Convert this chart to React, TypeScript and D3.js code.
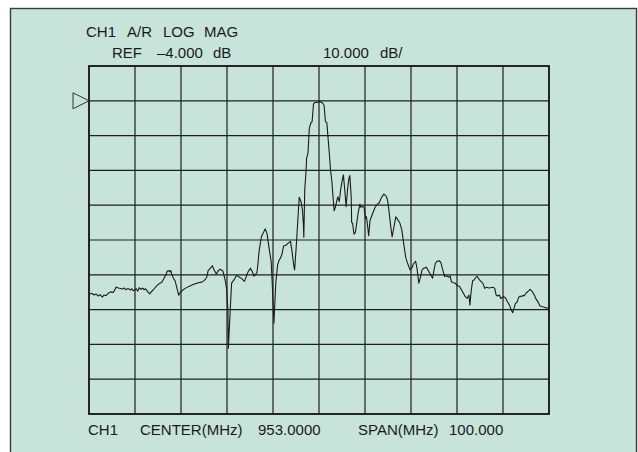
import React, { useEffect, useRef } from 'react'
import * as d3 from 'd3'

// trace: frequency (MHz) / magnitude (dB)
const freqMHz = [
  903.2, 903.6, 904.1, 904.5, 905.0, 905.4, 905.9, 906.3, 906.7, 907.2, 907.7, 908.2, 908.5, 908.9, 909.4,
  910.3, 910.7, 911.0, 911.5, 912.0, 912.3, 912.6, 913.0, 913.3, 913.6, 913.9, 914.3, 914.6, 915.0, 915.3,
  915.8, 916.2, 916.5, 917.0, 917.7, 918.4, 918.8, 919.2, 919.8, 920.0, 920.4, 920.6, 920.8, 921.0, 921.4,
  921.7, 922.1, 922.5, 922.8, 923.2, 923.9, 924.6, 925.3, 926.0, 926.8, 927.5, 928.1, 928.6, 928.9, 929.4,
  929.8, 930.2, 930.7, 931.1, 931.5, 932.1, 932.6, 932.9, 933.2, 933.3, 933.7, 934.0, 934.6, 935.1, 935.7,
  936.2, 936.8, 937.3, 937.6, 938.1, 938.6, 938.9, 939.5, 939.7, 940.0, 940.5, 941.3, 941.7, 942.1, 942.6,
  942.8, 943.2, 943.6, 944.0, 944.3, 944.7, 945.0, 945.3, 945.8, 946.3, 946.8, 947.1, 947.5, 947.7, 948.0,
  948.4, 948.7, 949.1, 949.4, 949.6, 949.7, 949.9, 950.2, 950.3, 950.6, 950.9, 951.2, 951.5, 951.8, 952.1,
  952.5, 952.9, 953.4, 953.8, 954.1, 954.4, 954.7, 955.0, 955.3, 955.5, 955.8, 956.1, 956.3, 956.6, 956.9,
  957.1, 957.4, 957.7, 958.0, 958.3, 958.6, 958.9, 959.2, 959.5, 959.7, 960.0, 960.1, 960.3, 960.6, 960.9,
  961.2, 961.5, 961.9, 962.1, 962.5, 962.8, 963.1, 963.3, 963.5, 963.8, 964.1, 964.4, 964.8, 965.2, 965.7,
  966.1, 966.5, 966.8, 967.1, 967.6, 967.9, 968.2, 968.6, 968.9, 969.3, 969.7, 970.2, 970.6, 971.0, 971.5,
  971.9, 972.4, 972.8, 973.3, 973.5, 974.0, 974.3, 974.7, 975.1, 975.4, 975.8, 976.3, 976.7, 977.1, 977.7,
  978.0, 978.3, 978.7, 979.2, 979.5, 979.9, 980.3, 980.8, 981.2, 981.5, 981.8, 982.2, 982.6, 983.1, 983.5,
  984.0, 984.4, 984.8, 985.2, 985.6, 985.8, 986.1, 986.4, 986.7, 987.1, 987.4, 987.8, 988.3, 988.7, 989.0,
  989.4, 989.9, 990.9, 991.2, 991.5, 991.8, 992.2, 992.5, 993.1, 993.5, 993.9, 994.4, 994.8, 995.1, 995.4,
  995.7, 996.1, 996.4, 996.7, 997.0, 997.3, 997.6, 998.0, 998.5, 998.9, 999.4, 999.8, 1000.2, 1000.7, 1001.0,
  1001.4, 1002.0, 1002.5, 1003.0
]
const magDB = [
  -59.5, -59.3, -59.8, -59.5, -60.1, -59.7, -60.4, -59.8, -60.0, -59.3, -58.9, -59.1, -58.6, -57.5, -57.8,
  -58.1, -57.8, -58.3, -57.9, -58.4, -58.0, -58.6, -58.3, -58.0, -58.7, -57.7, -58.2, -57.8, -58.3, -58.0,
  -58.9, -59.5, -58.9, -58.3, -57.2, -56.4, -56.2, -55.3, -53.8, -52.9, -52.8, -53.2, -52.8, -53.9, -55.1,
  -55.7, -57.7, -59.9, -59.1, -58.6, -57.9, -57.4, -57.0, -56.6, -56.3, -56.1, -55.6, -54.7, -52.8, -52.1,
  -51.4, -52.6, -53.8, -52.8, -52.4, -52.9, -55.5, -57.9, -64.1, -75.1, -64.1, -56.4, -55.3, -54.1, -54.7,
  -55.1, -55.9, -54.1, -53.1, -52.1, -53.4, -54.4, -53.4, -51.2, -46.9, -43.0, -40.8, -42.1, -45.9, -50.2,
  -55.5, -67.9, -56.4, -51.2, -49.9, -49.0, -47.8, -45.7, -45.5, -44.9, -44.4, -46.9, -51.2, -52.6, -46.9,
  -38.3, -31.7, -33.0, -35.4, -39.2, -43.2, -29.6, -23.9, -20.5, -19.1, -11.9, -10.5, -10.0, -4.9, -4.5,
  -4.5, -4.3, -4.3, -4.7, -5.2, -10.0, -10.2, -15.2, -20.1, -23.9, -27.2, -32.5, -35.6, -34.4, -32.5,
  -31.6, -33.0, -29.6, -27.2, -25.3, -29.6, -34.4, -29.6, -26.3, -25.5, -31.6, -39.0, -39.2, -42.3, -41.9,
  -39.2, -36.3, -33.7, -34.6, -34.4, -34.6, -37.8, -37.3, -39.2, -42.8, -38.3, -37.3, -35.9, -34.6, -33.7,
  -33.3, -32.0, -31.4, -30.8, -31.4, -32.5, -35.4, -40.2, -43.1, -40.2, -37.3, -38.3, -39.2, -41.1, -45.9,
  -49.3, -51.2, -52.6, -51.8, -50.9, -50.1, -52.1, -56.4, -54.5, -52.6, -52.1, -51.8, -52.6, -53.6, -55.0,
  -52.6, -50.7, -50.1, -50.0, -50.5, -52.6, -54.5, -54.3, -54.7, -54.3, -56.0, -56.3, -56.4, -57.2, -57.2,
  -58.4, -59.3, -60.3, -60.8, -59.8, -62.7, -58.4, -55.7, -55.5, -54.7, -54.5, -55.3, -56.0, -56.6, -57.9,
  -57.6, -57.8, -57.6, -57.9, -59.8, -60.1, -59.8, -60.8, -60.3, -60.5, -61.6, -62.7, -64.1, -64.9, -63.6,
  -62.2, -61.8, -60.5, -60.1, -60.3, -59.9, -60.1, -59.3, -58.7, -58.2, -58.9, -59.8, -61.0, -62.0, -62.9,
  -63.1, -63.3, -63.6, -63.4
]

// screen settings
const centerMHz = 953
const spanMHz = 100
const refDB = -4
const dbPerDiv = 10
const divs = 10

const headerLine1 = [
  { text: 'CH1', x: 86 },
  { text: 'A/R', x: 127 },
  { text: 'LOG', x: 163 },
  { text: 'MAG', x: 204 }
]
const headerLine2 = [
  { text: 'REF', x: 112 },
  { text: '\u20134.000', x: 157 },
  { text: 'dB', x: 213 },
  { text: '10.000', x: 323 },
  { text: 'dB/', x: 380 }
]
const footerLine = [
  { text: 'CH1', x: 88 },
  { text: 'CENTER(MHz)', x: 140 },
  { text: '953.0000', x: 258 },
  { text: 'SPAN(MHz)', x: 358 },
  { text: '100.000', x: 449 }
]

const W = 638
const H = 452
const bg = '#c8e4da'
const ink = '#1e1e1e'

export default function App() {
  const node = useRef<SVGSVGElement | null>(null)

  useEffect(() => {
    document.body.style.margin = '0'
    const svg = d3.select(node.current)
    svg.selectAll('*').remove()

    const left = 89, right = 549, top = 66, bottom = 414

    // top of screen is one division above the reference line
    const xScale = d3.scaleLinear()
      .domain([centerMHz - spanMHz / 2, centerMHz + spanMHz / 2])
      .range([left, right])
    const yScale = d3.scaleLinear()
      .domain([refDB + dbPerDiv, refDB + dbPerDiv - divs * dbPerDiv])
      .range([top, bottom])

    // panel
    svg.append('rect')
      .attr('x', 10.5).attr('y', 8.5)
      .attr('width', 626).attr('height', 470)
      .attr('fill', bg)
      .attr('stroke', '#3a3a3a')
      .attr('stroke-width', 1.4)

    const grid = svg.append('g')
    const xTicks = d3.range(0, divs + 1).map(i => xScale.domain()[0] + i * spanMHz / divs)
    const yTicks = d3.range(0, divs + 1).map(i => yScale.domain()[0] - i * dbPerDiv)

    grid.selectAll('line.v').data(xTicks.slice(1, -1)).enter().append('line')
      .attr('x1', d => xScale(d)).attr('x2', d => xScale(d))
      .attr('y1', top).attr('y2', bottom)
      .attr('stroke', ink).attr('stroke-width', 1.2)
    grid.selectAll('line.h').data(yTicks.slice(1, -1)).enter().append('line')
      .attr('y1', d => yScale(d)).attr('y2', d => yScale(d))
      .attr('x1', left).attr('x2', right)
      .attr('stroke', ink).attr('stroke-width', 1.2)
    grid.append('rect')
      .attr('x', left).attr('y', top)
      .attr('width', right - left).attr('height', bottom - top)
      .attr('fill', 'none')
      .attr('stroke', '#111').attr('stroke-width', 1.8)

    // reference marker
    const ry = yScale(refDB)
    svg.append('path')
      .attr('d', `M${left - 16},${ry - 8}L${left},${ry}L${left - 16},${ry + 8}Z`)
      .attr('fill', 'none')
      .attr('stroke', '#333')
      .attr('stroke-width', 1)

    // trace
    const pts: [number, number][] = freqMHz.map((f, i) => [f, magDB[i]])
    const line = d3.line<[number, number]>()
      .x(d => xScale(d[0]))
      .y(d => yScale(d[1]))
    svg.append('path')
      .datum(pts)
      .attr('d', line)
      .attr('fill', 'none')
      .attr('stroke', '#1a1a1a')
      .attr('stroke-width', 1.1)
      .attr('stroke-linejoin', 'round')

    // annotations
    const rows: [typeof headerLine1, number][] = [
      [headerLine1, 37],
      [headerLine2, 57.5],
      [footerLine, 435]
    ]
    rows.forEach(([items, y]) => {
      svg.append('g').selectAll('text').data(items).enter().append('text')
        .attr('x', d => d.x)
        .attr('y', y)
        .attr('font-family', '"Liberation Sans", Arial, Helvetica, sans-serif')
        .attr('font-size', 15)
        .attr('fill', '#1a1a1a')
        .text(d => d.text)
    })
  }, [])

  return (
    <svg ref={node} width={W} height={H} style={{ display: 'block' }} />
  )
}
